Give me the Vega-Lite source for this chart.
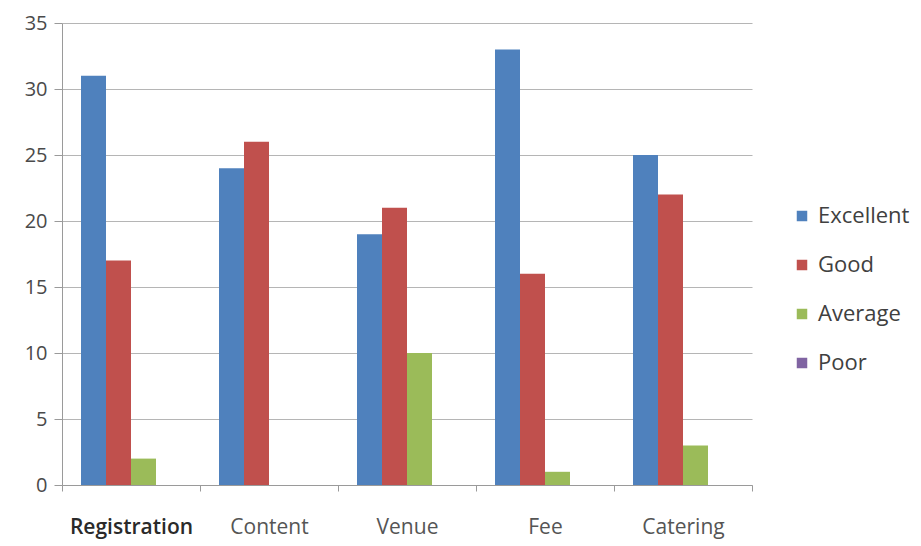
{
  "$schema": "https://vega.github.io/schema/vega-lite/v6.json",
  "autosize": {"type": "none"},
  "width": 690,
  "height": 462,
  "padding": {"left": 62, "top": 23, "right": 169, "bottom": 61},
  "background": "white",
  "config": {
    "font": "Open Sans",
    "view": {"stroke": null},
    "axis": {"labelFont": "Open Sans", "titleFont": "Open Sans"}
  },
  "data": {
    "values": [
      {"category": "Registration", "rating": "Excellent", "count": 31},
      {"category": "Registration", "rating": "Good", "count": 17},
      {"category": "Registration", "rating": "Average", "count": 2},
      {"category": "Registration", "rating": "Poor", "count": 0},
      {"category": "Content", "rating": "Excellent", "count": 24},
      {"category": "Content", "rating": "Good", "count": 26},
      {"category": "Content", "rating": "Average", "count": 0},
      {"category": "Content", "rating": "Poor", "count": 0},
      {"category": "Venue", "rating": "Excellent", "count": 19},
      {"category": "Venue", "rating": "Good", "count": 21},
      {"category": "Venue", "rating": "Average", "count": 10},
      {"category": "Venue", "rating": "Poor", "count": 0},
      {"category": "Fee", "rating": "Excellent", "count": 33},
      {"category": "Fee", "rating": "Good", "count": 16},
      {"category": "Fee", "rating": "Average", "count": 1},
      {"category": "Fee", "rating": "Poor", "count": 0},
      {"category": "Catering", "rating": "Excellent", "count": 25},
      {"category": "Catering", "rating": "Good", "count": 22},
      {"category": "Catering", "rating": "Average", "count": 3},
      {"category": "Catering", "rating": "Poor", "count": 0}
    ]
  },
  "mark": {"type": "bar"},
  "encoding": {
    "x": {
      "field": "category",
      "type": "nominal",
      "sort": ["Registration", "Content", "Venue", "Fee", "Catering"],
      "scale": {"paddingInner": 0, "paddingOuter": 0},
      "axis": {
        "title": null,
        "labelAngle": 0,
        "labelFontSize": 21,
        "labelPadding": 25,
        "labelColor": {"condition": {"test": "datum.value == 'Registration'", "value": "#2a2a2a"}, "value": "#555555"},
        "labelFontWeight": {"condition": {"test": "datum.value == 'Registration'", "value": 600}, "value": "normal"},
        "tickBand": "extent",
        "tickSize": 6,
        "tickColor": "#9a9a9a",
        "domainColor": "#9a9a9a",
        "grid": false
      }
    },
    "xOffset": {
      "field": "rating",
      "type": "nominal",
      "sort": ["Excellent", "Good", "Average", "Poor"],
      "scale": {"paddingInner": 0, "paddingOuter": 0.76}
    },
    "y": {
      "field": "count",
      "type": "quantitative",
      "scale": {"domain": [0, 35], "nice": false},
      "axis": {
        "title": null,
        "values": [0, 5, 10, 15, 20, 25, 30, 35],
        "labelFontSize": 20,
        "labelPadding": 7,
        "labelColor": "#4a4a4a",
        "tickSize": 8,
        "tickColor": "#9a9a9a",
        "domainColor": "#9a9a9a",
        "gridColor": "#b5b5b5",
        "gridWidth": 1
      }
    },
    "color": {
      "field": "rating",
      "type": "nominal",
      "sort": ["Excellent", "Good", "Average", "Poor"],
      "scale": {
        "domain": ["Excellent", "Good", "Average", "Poor"],
        "range": ["#4F81BD", "#C0504D", "#9BBB59", "#8064A2"]
      },
      "legend": {
        "title": null,
        "orient": "none",
        "legendX": 729,
        "legendY": 182,
        "symbolType": "square",
        "symbolSize": 110,
        "symbolStrokeWidth": 0,
        "labelFontSize": 22,
        "labelColor": "#404040",
        "labelOffset": 5,
        "rowPadding": 27
      }
    }
  }
}
